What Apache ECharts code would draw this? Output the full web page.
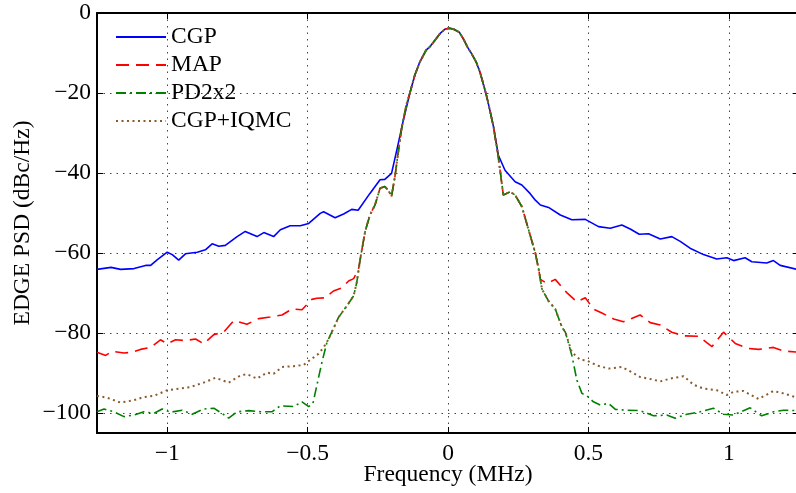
<!DOCTYPE html>
<html>
<head>
<meta charset="utf-8">
<script src="https://cdn.jsdelivr.net/npm/echarts@6/dist/echarts.min.js"></script>
<style>
  html, body { margin: 0; padding: 0; background: #fff; }
  #chart { width: 796px; height: 493px; }
</style>
</head>
<body>
<div id="chart"></div>
<script>
// Power spectral density of an EDGE signal, frequency in MHz, PSD in dBc/Hz.
const seriesNames = ['CGP', 'MAP', 'PD2x2', 'CGP+IQMC'];

// Main lobe, common to all four transmitters
const mainLobe = [
  [-0.135, -19.8], [-0.118, -15.5], [-0.100, -12.2], [-0.078, -9.3], [-0.064, -8.4],
  [-0.045, -6.7], [-0.028, -5.1], [-0.010, -4.0], [0.005, -3.8], [0.019, -4.0],
  [0.040, -4.8], [0.055, -6.5], [0.070, -8.6], [0.085, -10.3], [0.100, -12.2],
  [0.114, -14.8], [0.126, -17.8], [0.138, -20.9], [0.150, -24.6], [0.162, -28.4]
];

// CGP (uncompensated) skirts
const cgpLeft = [
  [-1.250, -64.1], [-1.200, -63.6], [-1.166, -64.1], [-1.118, -63.9], [-1.077, -63.1],
  [-1.059, -63.1], [-1.036, -61.7], [-1.000, -59.8], [-0.982, -60.4], [-0.959, -61.8],
  [-0.935, -60.2], [-0.893, -59.8], [-0.864, -59.2], [-0.840, -57.7], [-0.816, -58.3],
  [-0.793, -58.1], [-0.751, -55.9], [-0.722, -54.6], [-0.680, -55.9], [-0.656, -54.9],
  [-0.621, -55.9], [-0.597, -54.2], [-0.562, -53.2], [-0.526, -53.2], [-0.496, -52.6],
  [-0.455, -50.1], [-0.443, -49.7], [-0.402, -51.2], [-0.370, -50.2], [-0.343, -49.1],
  [-0.320, -49.3], [-0.278, -45.1], [-0.242, -41.7], [-0.225, -41.6], [-0.201, -40.1],
  [-0.177, -32.6], [-0.159, -26.8]
];
const cgpRight = [
  [0.179, -35.5], [0.203, -39.3], [0.239, -42.2], [0.263, -43.0], [0.292, -45.1],
  [0.311, -46.8], [0.329, -48.0], [0.358, -48.6], [0.400, -50.5], [0.441, -51.7],
  [0.489, -51.6], [0.536, -53.4], [0.578, -53.8], [0.619, -53.0], [0.649, -54.0],
  [0.681, -55.3], [0.714, -55.2], [0.756, -56.5], [0.797, -55.9], [0.827, -57.1],
  [0.862, -58.8], [0.910, -60.4], [0.957, -61.5], [0.993, -61.2], [1.017, -61.9],
  [1.058, -61.2], [1.082, -62.2], [1.135, -62.5], [1.159, -61.9], [1.183, -63.1],
  [1.250, -64.2]
];

// Shoulders shared by the three compensated transmitters
const compInnerLeft = [
  [-0.313, -61.7], [-0.295, -54.6], [-0.278, -50.5], [-0.260, -48.0], [-0.242, -43.8],
  [-0.225, -43.4], [-0.213, -44.3], [-0.201, -45.8], [-0.189, -40.9], [-0.177, -34.7],
  [-0.165, -28.8], [-0.147, -22.6]
];
const compInnerRight = [
  [0.179, -35.9], [0.197, -45.5], [0.221, -44.7], [0.239, -45.5], [0.263, -48.4],
  [0.287, -54.2], [0.311, -60.0], [0.323, -64.1]
];

// MAP skirts
const mapLeft = [
  [-1.250, -84.8], [-1.219, -85.6], [-1.196, -84.6], [-1.154, -85.0], [-1.124, -84.8],
  [-1.095, -84.1], [-1.059, -83.6], [-1.024, -81.7], [-1.000, -82.7], [-0.970, -81.7],
  [-0.935, -81.9], [-0.899, -81.5], [-0.870, -82.7], [-0.834, -80.4], [-0.799, -79.8],
  [-0.763, -76.9], [-0.716, -77.8], [-0.674, -76.4], [-0.633, -76.0], [-0.591, -75.5],
  [-0.556, -74.0], [-0.520, -74.2], [-0.485, -71.6], [-0.467, -71.3], [-0.437, -71.2],
  [-0.408, -69.5], [-0.378, -68.7], [-0.354, -67.0], [-0.336, -66.4], [-0.319, -64.1]
];
const mapRight = [
  [0.329, -66.6], [0.352, -67.6], [0.382, -66.6], [0.423, -69.9], [0.459, -72.2],
  [0.489, -71.2], [0.518, -74.0], [0.548, -75.0], [0.590, -76.5], [0.625, -77.2],
  [0.684, -75.5], [0.720, -77.4], [0.756, -78.0], [0.797, -79.8], [0.839, -80.7],
  [0.892, -80.8], [0.940, -83.4], [0.981, -79.8], [1.023, -82.6], [1.064, -83.8],
  [1.106, -84.1], [1.159, -83.6], [1.195, -84.5], [1.250, -84.8]
];

// Lower skirts shared by PD2x2 and CGP+IQMC
const lowSkirtLeft = [
  [-0.414, -79.8], [-0.390, -76.1], [-0.360, -73.2], [-0.336, -70.7], [-0.325, -67.4]
];
const lowSkirtRight = [
  [0.335, -69.1], [0.358, -72.0], [0.382, -74.0], [0.406, -78.6], [0.418, -79.8]
];

// PD2x2 floor
const pdLeft = [
  [-1.250, -99.7], [-1.225, -99.0], [-1.190, -99.7], [-1.154, -100.9], [-1.118, -100.5],
  [-1.083, -99.7], [-1.047, -100.1], [-1.018, -99.0], [-0.988, -99.8], [-0.947, -99.3],
  [-0.911, -100.3], [-0.870, -99.0], [-0.834, -98.8], [-0.805, -100.1], [-0.781, -101.3],
  [-0.751, -99.7], [-0.710, -99.4], [-0.668, -99.7], [-0.627, -99.7], [-0.597, -98.2],
  [-0.550, -98.4], [-0.520, -97.2], [-0.496, -98.4], [-0.481, -97.6], [-0.467, -93.1],
  [-0.449, -87.3], [-0.431, -82.3]
];
const pdRight = [
  [0.441, -85.6], [0.459, -91.8], [0.477, -95.1], [0.495, -95.7], [0.518, -97.2],
  [0.542, -98.0], [0.572, -97.6], [0.596, -99.1], [0.637, -99.3], [0.684, -99.4],
  [0.732, -100.7], [0.779, -100.5], [0.809, -101.3], [0.851, -100.3], [0.898, -99.7],
  [0.945, -98.8], [0.981, -100.3], [1.017, -100.5], [1.076, -98.7], [1.117, -100.7],
  [1.159, -99.7], [1.195, -99.3], [1.250, -99.4]
];

// CGP+IQMC floor
const iqmcLeft = [
  [-1.250, -95.7], [-1.213, -96.2], [-1.166, -97.4], [-1.118, -96.8], [-1.083, -96.0],
  [-1.047, -95.7], [-1.000, -94.3], [-0.959, -93.9], [-0.917, -93.5], [-0.870, -92.4],
  [-0.828, -91.2], [-0.781, -92.4], [-0.739, -90.6], [-0.716, -90.3], [-0.680, -91.4],
  [-0.645, -89.9], [-0.621, -90.2], [-0.591, -88.5], [-0.550, -88.3], [-0.514, -88.0],
  [-0.496, -87.0], [-0.461, -85.2], [-0.443, -83.6], [-0.425, -81.5]
];
const iqmcRight = [
  [0.441, -84.8], [0.471, -86.7], [0.495, -86.9], [0.530, -88.1], [0.572, -88.9],
  [0.619, -88.5], [0.655, -89.8], [0.684, -91.0], [0.714, -91.4], [0.756, -92.1],
  [0.791, -91.4], [0.839, -90.8], [0.874, -92.9], [0.910, -93.9], [0.957, -94.3],
  [0.993, -95.5], [1.017, -94.7], [1.052, -94.5], [1.106, -96.5], [1.159, -94.5],
  [1.195, -95.1], [1.250, -96.3]
];

const FONT = 'Liberation Serif';
const FS = 23.5;

const cgpData = [].concat(cgpLeft, mainLobe, cgpRight);
const compCore = [].concat(compInnerLeft, mainLobe, compInnerRight);
const mapData = [].concat(mapLeft, compCore, mapRight);
const pdData = [].concat(pdLeft, lowSkirtLeft, compCore, lowSkirtRight, pdRight);
const iqmcData = [].concat(iqmcLeft, lowSkirtLeft, compCore, lowSkirtRight, iqmcRight);

const minus = v => String(v).replace('-', '\u2212');

function line(name, data, color, type, width) {
  return {
    name: name, type: 'line', data: data,
    symbol: 'none', showSymbol: false, animation: false,
    lineStyle: { color: color, width: width, type: type },
    itemStyle: { color: color },
    z: 3
  };
}

const chart = echarts.init(document.getElementById('chart'), null, { renderer: 'canvas' });
chart.setOption({
  backgroundColor: '#fff',
  animation: false,
  grid: { left: 97, right: -3, top: 13, bottom: 60, containLabel: false, outerBoundsMode: 'none' },
  legend: {
    orient: 'vertical', left: 115, top: 25, padding: 0,
    itemWidth: 50, itemHeight: 14, itemGap: 4,
    itemStyle: { opacity: 0 },
    textStyle: { fontFamily: FONT, fontSize: FS, color: '#000', lineHeight: 24, padding: [0, 0, 0, 0] },
    data: seriesNames
  },
  xAxis: [{
    type: 'value', min: -1.25, max: 1.25, position: 'bottom',
    name: 'Frequency (MHz)', nameLocation: 'middle', nameGap: 30, nameMoveOverlap: false,
    nameTextStyle: { fontFamily: FONT, fontSize: FS, color: '#000' },
    axisLine: { onZero: false, lineStyle: { color: '#000', width: 2 } },
    axisTick: { inside: true, length: 6, lineStyle: { color: '#000', width: 1 } },
    axisLabel: { fontFamily: FONT, fontSize: FS, color: '#000', margin: 9,
      showMinLabel: false, showMaxLabel: false, formatter: minus },
    splitLine: { show: true, lineStyle: { color: '#444', width: 1, type: [1.5, 5] } }
  }, {
    type: 'value', min: -1.25, max: 1.25, position: 'top',
    axisLine: { onZero: false, lineStyle: { color: '#000', width: 2 } },
    axisTick: { inside: true, length: 6, lineStyle: { color: '#000', width: 1 } },
    axisLabel: { show: false }, splitLine: { show: false }
  }],
  yAxis: [{
    type: 'value', min: -105, max: 0, position: 'left',
    name: 'EDGE PSD (dBc/Hz)', nameLocation: 'middle', nameGap: 62, nameMoveOverlap: false,
    nameTextStyle: { fontFamily: FONT, fontSize: FS, color: '#000' },
    axisLine: { onZero: false, lineStyle: { color: '#000', width: 2 } },
    axisTick: { inside: true, length: 6, lineStyle: { color: '#000', width: 1 } },
    axisLabel: { fontFamily: FONT, fontSize: FS, color: '#000', margin: 6,
      showMinLabel: false, formatter: minus },
    splitLine: { show: true, lineStyle: { color: '#444', width: 1, type: [1.5, 5] } }
  }, {
    type: 'value', min: -105, max: 0, position: 'right',
    axisLine: { onZero: false, lineStyle: { color: '#000', width: 2 } },
    axisTick: { inside: true, length: 6, lineStyle: { color: '#000', width: 1 } },
    axisLabel: { show: false }, splitLine: { show: false }
  }],
  series: [
    line('CGP', cgpData, '#0000ff', 'solid', 1.6),
    line('MAP', mapData, '#ff0000', [13, 7], 1.6),
    line('PD2x2', pdData, '#008000', [10, 4, 2, 4], 1.6),
    line('CGP+IQMC', iqmcData, '#8b5a2b', [2, 3.5], 2)
  ]
});
</script>
</body>
</html>
